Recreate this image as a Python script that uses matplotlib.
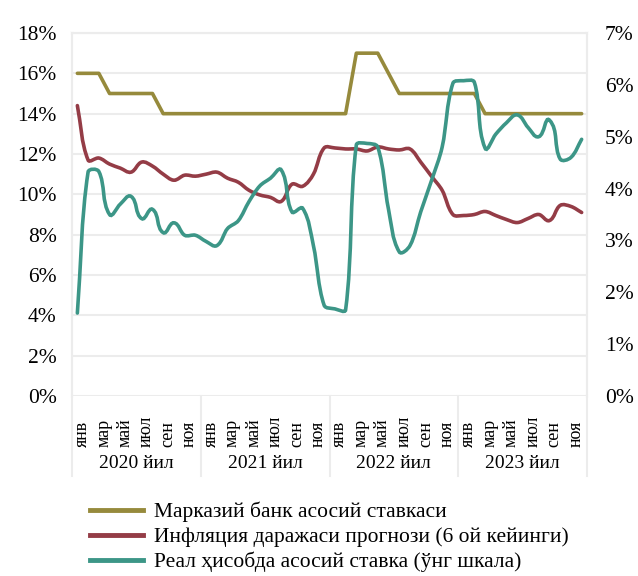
import matplotlib
matplotlib.use("Agg")
import matplotlib.pyplot as plt
from matplotlib.path import Path
from matplotlib.patches import PathPatch
from matplotlib.lines import Line2D
import numpy as np

plt.rcParams['font.family'] = ['Liberation Serif', 'DejaVu Serif']

# ---- data (monthly, Jan 2020 - Dec 2023) ----
years = ["2020 йил", "2021 йил", "2022 йил", "2023 йил"]
month_labels = ["янв", "мар", "май", "июл", "сен", "ноя"]

key_rate = [16, 16, 16, 15, 15, 15, 15, 15, 14, 14, 14, 14,
            14, 14, 14, 14, 14, 14, 14, 14, 14, 14, 14, 14,
            14, 14, 17, 17, 17, 16, 15, 15, 15, 15, 15, 15,
            15, 15, 14, 14, 14, 14, 14, 14, 14, 14, 14, 14]

inflation = [14.4, 11.7, 11.8, 11.5, 11.3, 11.1, 11.6, 11.4, 11.0, 10.7, 10.95, 10.9,
             11.0, 11.1, 10.8, 10.6, 10.2, 9.97, 9.85, 9.65, 10.5, 10.4, 11.0, 12.3,
             12.3, 12.25, 12.25, 12.15, 12.35, 12.25, 12.2, 12.25, 11.6, 10.9, 10.2, 9.0,
             8.95, 9.0, 9.15, 8.95, 8.75, 8.6, 8.8, 9.0, 8.7, 9.45, 9.4, 9.1]

real_rate = [1.6, 4.32, 4.33, 3.5, 3.7, 3.85, 3.42, 3.6, 3.15, 3.34, 3.1, 3.1,
             2.98, 2.9, 3.23, 3.38, 3.75, 4.05, 4.2, 4.36, 3.55, 3.62, 2.9, 1.75,
             1.68, 1.66, 4.84, 4.87, 4.8, 3.6, 2.78, 2.9, 3.55, 4.15, 4.8, 6.03,
             6.08, 6.05, 4.78, 5.05, 5.27, 5.42, 5.18, 5.0, 5.32, 4.57, 4.6, 4.95]

series_names = ["Марказий банк асосий ставкаси",
                "Инфляция даражаси прогнози (6 ой кейинги)",
                "Реал ҳисобда асосий ставка (ўнг шкала)"]

c_gold = "#968a3c"
c_red = "#943c46"
c_teal = "#3c9687"
grid_c = "#ececec"


def smooth_path(xs, ys, sx, sy):
    # excel-like smoothed line: cubic bezier, tangents scaled by segment length
    # (sx, sy = pixels per data unit, so lengths are measured on screen)
    P = np.column_stack([np.asarray(xs, float), np.asarray(ys, float)])
    S = P * [sx, sy]
    n = len(P)

    def dist(i, j):
        return np.hypot(*(S[j] - S[i]))

    verts = [tuple(P[0])]
    codes = [Path.MOVETO]
    for i in range(n - 1):
        a = max(i - 1, 0)
        d = min(i + 2, n - 1)
        seg = dist(i, i + 1)
        k1 = seg / dist(a, i + 1) / 3 if dist(a, i + 1) > 0 else 0
        k2 = seg / dist(i, d) / 3 if dist(i, d) > 0 else 0
        c1 = P[i] + (P[i + 1] - P[a]) * k1
        c2 = P[i + 1] - (P[d] - P[i]) * k2
        verts += [tuple(c1), tuple(c2), tuple(P[i + 1])]
        codes += [Path.CURVE4] * 3
    return Path(verts, codes)


x = np.arange(len(key_rate))

fig = plt.figure(figsize=(6.38, 5.76), dpi=100)
ax = fig.add_axes([72 / 638, 180 / 576, 515 / 638, 363 / 576])
ax2 = ax.twinx()

px_x = 515 / 48
lw = 2.6
ax.plot(x, key_rate, color=c_gold, lw=lw, solid_capstyle="round", zorder=3)
ax.add_patch(PathPatch(smooth_path(x, inflation, px_x, 363 / 18), facecolor="none",
                       edgecolor=c_red, lw=lw, capstyle="round", zorder=3))
ax2.add_patch(PathPatch(smooth_path(x, real_rate, px_x, 363 / 7), facecolor="none",
                        edgecolor=c_teal, lw=lw, capstyle="round", zorder=3))

ax.set_xlim(-0.5, len(x) - 0.5)
ax.set_ylim(0, 18)
ax2.set_ylim(0, 7)
ax.set_yticks(np.arange(0, 19, 2))
ax2.set_yticks(np.arange(0, 8, 1))
ax.set_yticklabels([f"{v}%" for v in range(0, 19, 2)])
ax2.set_yticklabels([f"{v}%" for v in range(0, 8)])
ax.tick_params(axis="y", length=0, pad=11, labelsize=15.5)
ax2.tick_params(axis="y", length=0, pad=13, labelsize=15.5)
ax.set_xticks([])
ax.grid(axis="y", color=grid_c, lw=1.5)
ax.set_axisbelow(True)

for a in (ax, ax2):
    for s in a.spines.values():
        s.set_color(grid_c)
        s.set_linewidth(1.5)
    a.spines["bottom"].set_visible(False)

# month labels, years and separators under the axis
tr = ax.get_xaxis_transform()
for k in range(len(years)):
    for j, m in enumerate(month_labels):
        ax.text(12 * k + 2 * j + 0.45, -0.14, m, rotation=90, ha="center",
                va="bottom", fontsize=13, transform=tr)
    ax.text(12 * k + 5.5, -0.185, years[k], ha="center", va="center",
            fontsize=14, transform=tr)
for b in np.arange(-0.5, len(x), 12):
    ax.add_line(Line2D([b, b], [0, -0.22], transform=tr, color=grid_c,
                       lw=1.5, clip_on=False))

handles = [Line2D([], [], color=c, lw=3.5) for c in (c_gold, c_red, c_teal)]
fig.legend(handles, series_names, loc="upper left",
           bbox_to_anchor=(79 / 638, 85 / 576), frameon=False, fontsize=15.5,
           handlelength=2.45, handletextpad=0.55, labelspacing=0.22, borderpad=0)

fig.savefig("out.png", dpi=100)
